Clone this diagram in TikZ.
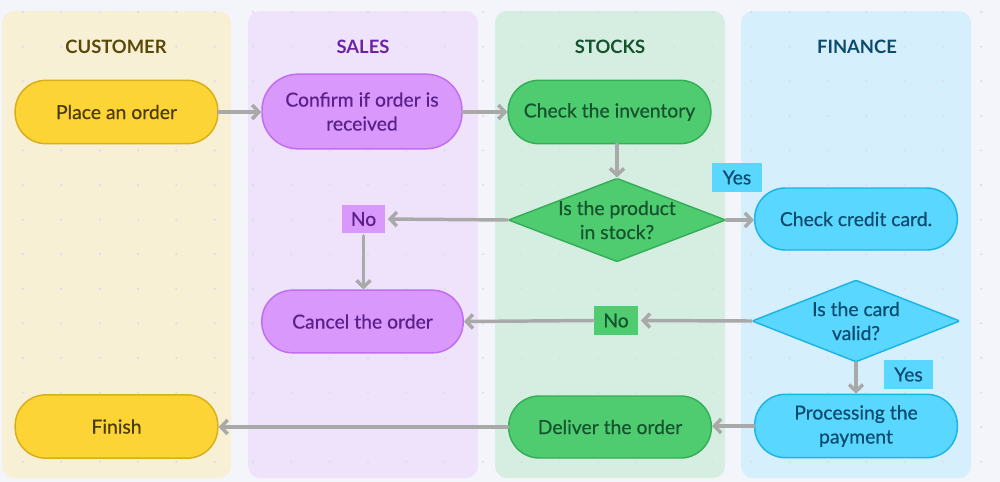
\documentclass[tikz,border=0pt]{standalone}
\usepackage{fontspec}
\setmainfont{Lato}
\newfontfamily\medfont{Lato}[FakeBold=0.45]
\usetikzlibrary{arrows.meta,shapes.geometric}
\definecolor{bgc}{HTML}{F4F5FA}
\definecolor{dotc}{HTML}{DCDFE6}
\definecolor{custbg}{HTML}{F8F0D5}
\definecolor{salesbg}{HTML}{EFE3FB}
\definecolor{stockbg}{HTML}{D5EEE1}
\definecolor{finbg}{HTML}{D6EFFC}
\definecolor{custfill}{HTML}{FDD435}
\definecolor{custdraw}{HTML}{D9AE1A}
\definecolor{custtext}{HTML}{4A3B08}
\definecolor{custhead}{HTML}{5A4808}
\definecolor{salesfill}{HTML}{D898FC}
\definecolor{salesdraw}{HTML}{C26CF2}
\definecolor{salestext}{HTML}{5B1F8A}
\definecolor{saleshead}{HTML}{6B21A8}
\definecolor{stockfill}{HTML}{4FCB70}
\definecolor{stockdraw}{HTML}{34AE57}
\definecolor{stocktext}{HTML}{14532D}
\definecolor{finfill}{HTML}{5AD7FF}
\definecolor{findraw}{HTML}{1BB4E6}
\definecolor{fintext}{HTML}{0C4A6E}
\definecolor{arrc}{HTML}{A9A9A9}
\tikzset{
  txt/.style={font=\medfont\fontsize{14.5}{18}\selectfont, align=center},
  head/.style={font=\fontsize{13.8}{16}\selectfont\bfseries},
  pill/.style={txt, draw, line width=1.1pt, rounded corners=23pt, minimum width=152pt, minimum height=47.5pt, inner sep=1pt},
  cust/.style={pill, fill=custfill, draw=custdraw, text=custtext},
  sales/.style={pill, fill=salesfill, draw=salesdraw, text=salestext},
  stock/.style={pill, fill=stockfill, draw=stockdraw, text=stocktext},
  fin/.style={pill, fill=finfill, draw=findraw, text=fintext},
  decision/.style={txt, diamond, draw, line width=1.1pt, inner sep=0pt, aspect=2.6, rounded corners=1pt},
  lbl/.style={txt, inner sep=0pt, minimum height=21.5pt},
  arr/.style={draw=arrc, line width=2.6pt, -{Straight Barb[length=5pt,width=10.5pt,line width=2.6pt]}, line cap=round}
}
\begin{document}
\begin{tikzpicture}[x=0.75pt,y=-0.75pt]
\useasboundingbox (0,0) rectangle (1000,482);
\fill[bgc] (0,0) rectangle (1000,482);
% lanes
\fill[custbg, rounded corners=9pt] (2,11) rectangle (231,478);
\fill[salesbg, rounded corners=9pt] (248,11) rectangle (478,478);
\fill[stockbg, rounded corners=9pt] (495,11) rectangle (725,478);
\fill[finbg, rounded corners=9pt] (741,11) rectangle (971,478);
% dots
\foreach \i in {0,...,25} {
  \foreach \j in {0,...,13} {
    \fill[dotc] ({23+38.33*\i},{12+34.6*\j}) circle[radius=1.3];
  }
}
% headers
\node[head, text=custhead] (hcust) at (116,47) {CUSTOMER};
\node[head, text=saleshead] (hsales) at (363,47) {SALES};
\node[head, text=stocktext] (hstock) at (610,47) {STOCKS};
\node[head, text=fintext] (hfin) at (857,47) {FINANCE};
% nodes
\node[cust] (place) at (116.5,112) {Place an order};
\node[sales, minimum height=56pt, minimum width=150pt, rounded corners=27pt] (confirm) at (362,111.5) {Confirm if order is\\received};
\node[stock] (inventory) at (609.5,112) {Check the inventory};
\node[decision, fill=stockfill, draw=stockdraw, text=stocktext, minimum width=160.5pt, minimum height=60pt] (stockq) at (617,220) {Is the product\\in stock?};
\node[fin, minimum height=46.5pt] (ccard) at (856,219) {Check credit card.};
\node[decision, fill=finfill, draw=findraw, text=fintext, minimum width=156pt, minimum height=61.5pt] (cardq) at (856,321) {Is the card\\valid?};
\node[sales, minimum height=47pt, minimum width=151pt] (cancel) at (362.5,321.5) {Cancel the order};
\node[fin] (payment) at (856,426) {Processing the\\payment};
\node[stock, minimum height=46.5pt] (deliver) at (610,427) {Deliver the order};
\node[cust] (finish) at (116.5,426.5) {Finish};
% labels
\node[lbl, fill=finfill, text=fintext, minimum width=37.5pt] (yes1) at (737,177.5) {Yes};
\node[lbl, fill=salesfill, text=salestext, minimum width=32pt, minimum height=21pt] (no1) at (363.5,219) {No};
\node[lbl, fill=stockfill, text=stocktext, minimum width=33pt] (no2) at (616,320.5) {No};
\node[lbl, fill=finfill, text=fintext, minimum width=37pt] (yes2) at (908.5,374.5) {Yes};
% connectors
\draw[arr] (place.east) -- (confirm.west |- place.east);
\draw[arr] (confirm.east |- inventory.west) -- (inventory.west);
\draw[arr] (inventory.south -| stockq.north) -- (stockq.north);
\draw[arr, shorten >=2pt] (stockq.west) -- (no1.east);
\draw[arr, shorten <=2pt] (no1.south) -- (cancel.north -| no1.south);
\draw[arr] (stockq.east) -- (ccard.west |- stockq.east);
\draw[arr, shorten >=2pt] (cardq.west) -- (no2.east);
\draw[arr] (no2.west) -- (cancel.east);
\draw[arr] (cardq.south) -- (payment.north);
\draw[arr] (payment.west) -- (deliver.east |- payment.west);
\draw[arr] (deliver.west) -- (finish.east |- deliver.west);
\end{tikzpicture}
\end{document}
